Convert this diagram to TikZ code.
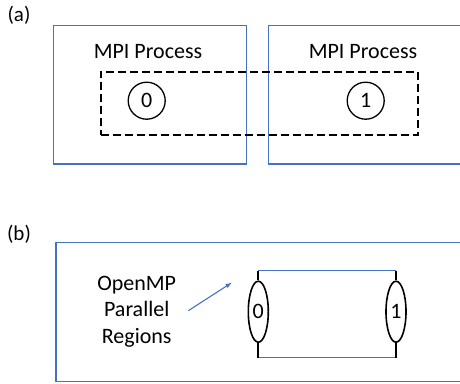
\documentclass[tikz,border=0pt]{standalone}
\usepackage{fontspec}
\setmainfont{Carlito}
\usepackage{xcolor}
\usepackage{tikz}
\usetikzlibrary{shapes.geometric}
\definecolor{officeblue}{RGB}{68,114,196}

\begin{document}
\begin{tikzpicture}[x=1pt,y=-1pt,font=\fontsize{22}{26.7}\selectfont]
      \tikzstyle{process} = [draw=officeblue,line width=1.1pt,inner sep=0pt]
      \tikzstyle{rank} = [draw,shape=circle,line width=1.3pt,minimum size=37pt,inner sep=0pt]
      \tikzstyle{region} = [draw,shape=ellipse,line width=1.6pt,minimum width=20pt,minimum height=61pt,inner sep=0pt]
      \tikzstyle{comm} = [draw,dashed,dash pattern=on 8pt off 4pt,line width=1.8pt,inner sep=0pt]
      \tikzstyle{panel} = [font=\fontsize{21}{25}\selectfont]
      %
      \useasboundingbox (0,0) rectangle (460,383);

      % Part (a).
      \node[panel] (labela) at (19,15) {(a)};
      \node[process,minimum width=193.3pt,minimum height=138.3pt] (proc0) at (149.8,94.8) {};
      \node[process,minimum width=200pt,minimum height=138.3pt] (proc1) at (368.3,94.8) {};
      \node (name0) at (148,52) {MPI Process};
      \node (name1) at (363,52) {MPI Process};
      \node[comm,minimum width=317pt,minimum height=63.3pt] (world) at (259.2,103.4) {};
      \node[rank] (r0) at (146.7,100.7) {0};
      \node[rank] (r1) at (365.7,100.7) {1};

      % Part (b).
      \node[panel] (labelb) at (19,234) {(b)};
      \node[process,minimum width=420pt,minimum height=139pt] (proc) at (266,312.2) {};
      \node[align=center] (omp) at (136.7,311.7) {OpenMP\\Parallel\\Regions};
      \node[region] (t0) at (258.3,311.7) {0};
      \node[region] (t1) at (396,311.7) {1};
      \coordinate (top0) at (258.3,270.7);
      \coordinate (top1) at (396,270.7);
      \coordinate (bot0) at (258.3,357.7);
      \coordinate (bot1) at (396,357.7);
      \coordinate (tail) at (188.3,310.7);
      \coordinate (head) at (231.7,282.7);

      % Draw lines.
      \draw[officeblue,line width=1.1pt] (top0) -- (top1) (bot0) -- (bot1);
      \draw[line width=1.8pt] (top0) -- (t0.north) (t0.south) -- (bot0) (top1) -- (t1.north) (t1.south) -- (bot1);
      \draw[officeblue,line width=1.1pt,-latex] (tail) -- (head);
      %
\end{tikzpicture}
\end{document}
